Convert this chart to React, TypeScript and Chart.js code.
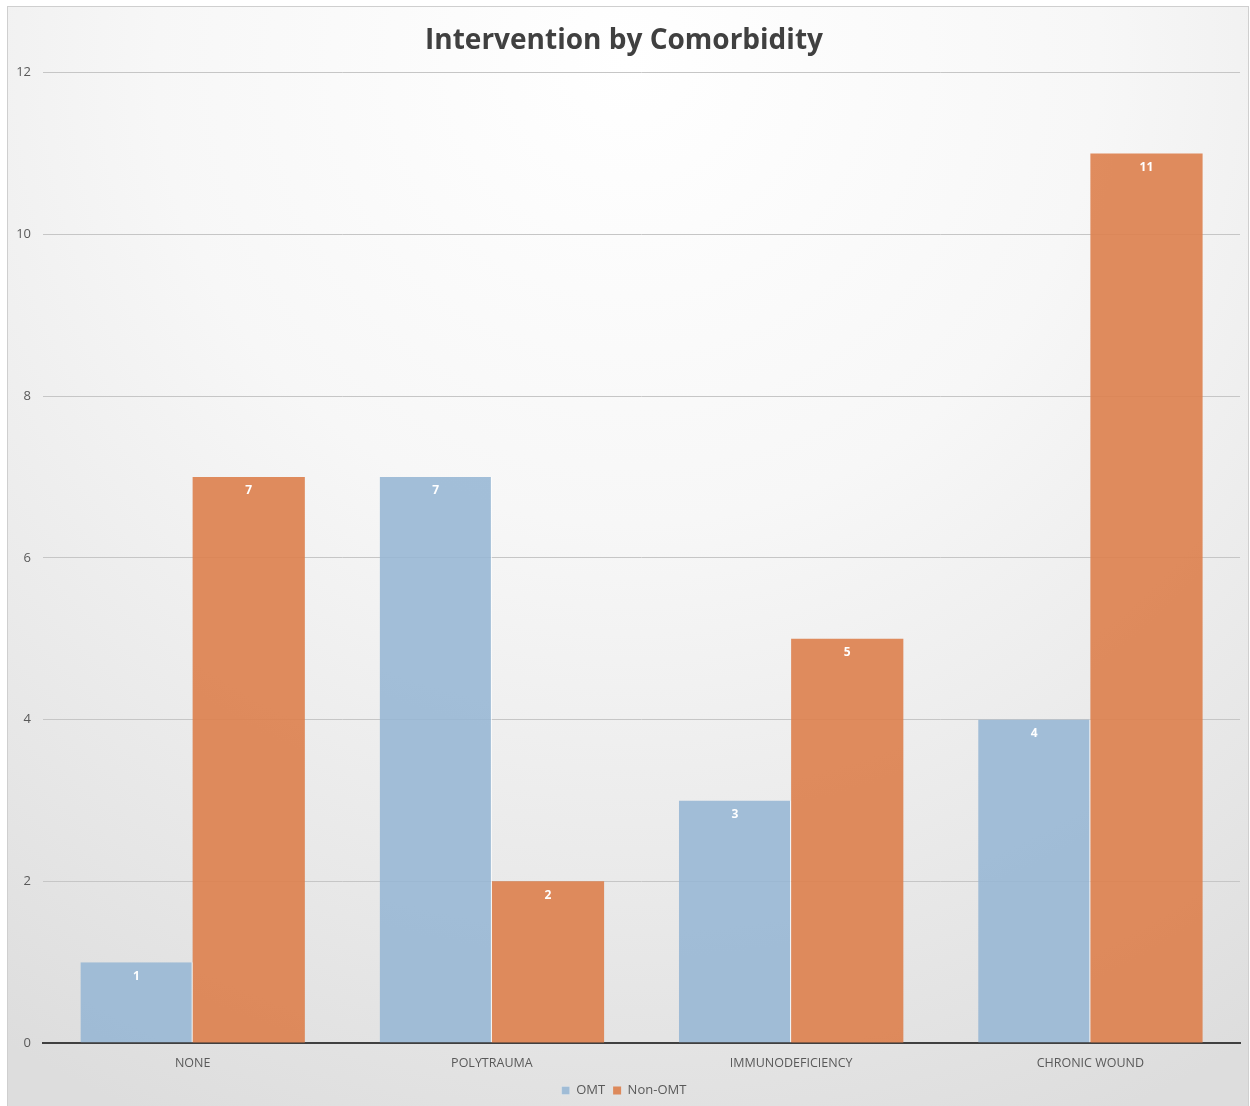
import React, { useEffect, useRef } from "react";
import { Chart, registerables } from "chart.js";

Chart.register(...registerables);

const categories = ["NONE", "POLYTRAUMA", "IMMUNODEFICIENCY", "CHRONIC WOUND"];
const omtValues = [1, 7, 3, 4];
const nonOmtValues = [7, 2, 5, 11];
const yTicks = [0, 2, 4, 6, 8, 10, 12];
const seriesNames = ["OMT", "Non-OMT"];

const FONT = "'Open Sans', 'Liberation Sans', sans-serif";

const valueLabels = {
  id: "valueLabels",
  afterDatasetsDraw(chart: any) {
    const ctx = chart.ctx;
    ctx.save();
    ctx.fillStyle = "#ffffff";
    ctx.font = `bold 12px ${FONT}`;
    ctx.textAlign = "center";
    ctx.textBaseline = "middle";
    chart.data.datasets.forEach((ds: any, i: number) => {
      const meta = chart.getDatasetMeta(i);
      meta.data.forEach((bar: any, j: number) => {
        ctx.fillText(String(ds.data[j]), bar.x, bar.y + 14);
      });
    });
    ctx.restore();
  },
};

export default function App() {
  const ref = useRef<HTMLCanvasElement>(null);
  useEffect(() => {
    if (!ref.current) return;
    const chart = new Chart(ref.current, {
      type: "bar",
      data: {
        labels: categories,
        datasets: [
          {
            label: seriesNames[0],
            data: omtValues,
            backgroundColor: "rgba(150,182,212,0.88)",
            borderColor: "rgba(255,255,255,0.9)",
            borderWidth: { top: 0, left: 0, bottom: 0, right: 1 },
            borderSkipped: false,
          },
          {
            label: seriesNames[1],
            data: nonOmtValues,
            backgroundColor: "rgba(221,128,76,0.9)",
            borderWidth: 0,
          },
        ],
      },
      options: {
        animation: false,
        responsive: false,
        maintainAspectRatio: false,
        layout: { padding: { left: 0, right: 8, top: 0, bottom: 0 } },
        datasets: {
          bar: { barPercentage: 1, categoryPercentage: 0.75 },
        },
        plugins: {
          title: {
            display: true,
            text: "Intervention by Comorbidity",
            color: "#404040",
            font: { family: FONT, size: 28, weight: "bold" },
            padding: { top: 17, bottom: 15 },
          },
          legend: {
            position: "bottom",
            labels: {
              color: "#595959",
              font: { family: FONT, size: 13 },
              boxWidth: 8,
              boxHeight: 8,
              padding: 8,
            },
          },
          tooltip: { enabled: false },
        },
        scales: {
          x: {
            grid: { display: false },
            border: { display: true, color: "#404040", width: 2 },
            ticks: { color: "#595959", font: { family: FONT, size: 12.5 }, padding: 5 },
          },
          y: {
            min: 0,
            max: 12,
            afterBuildTicks: (axis: any) => {
              axis.ticks = yTicks.map((v) => ({ value: v }));
            },
            afterFit: (axis: any) => {
              axis.width = 35;
            },
            grid: {
              color: (c: any) => (c.tick && c.tick.value === 0 ? "rgba(0,0,0,0)" : "#c6c6c6"),
              lineWidth: 1,
              drawTicks: false,
            },
            border: { display: false },
            ticks: {
              color: "#595959",
              font: { family: FONT, size: 13 },
              padding: 12,
            },
          },
        },
      },
      plugins: [valueLabels],
    });
    return () => chart.destroy();
  }, []);

  return (
    <div style={{ position: "absolute", left: 0, top: 0, width: 1250, height: 1106, background: "#ffffff" }}>
      <div
        style={{
          position: "absolute",
          left: 7,
          top: 6,
          width: 1240,
          height: 1100,
          border: "1px solid #cfcfcf",
          background: "radial-gradient(ellipse 95% 105% at 50% 5%, #ffffff 0%, #f7f7f7 40%, #e6e6e6 80%, #dddddd 100%)",
        }}
      >
        <canvas ref={ref} width={1240} height={1100} style={{ display: "block" }} />
      </div>
    </div>
  );
}
